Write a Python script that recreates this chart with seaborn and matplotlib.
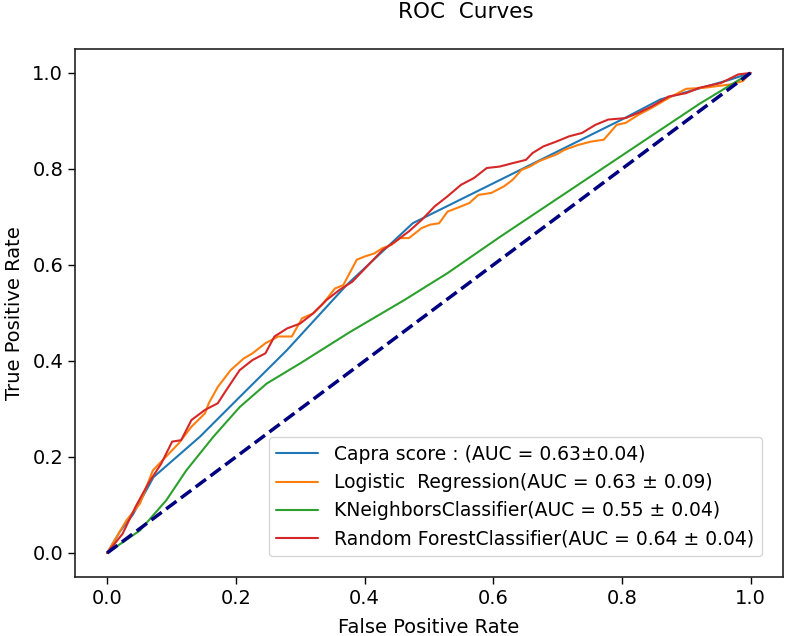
import numpy as np
import pandas as pd
import matplotlib
matplotlib.use("Agg")
import matplotlib.pyplot as plt
import seaborn as sns

# ---- data ----
capra_fpr = [0.0, 0.02, 0.04, 0.072, 0.144, 0.206, 0.279, 0.372, 0.475, 0.63, 0.80, 0.86,
             0.90, 0.968, 1.0]
capra_tpr = [0.0, 0.045, 0.08, 0.158, 0.242, 0.325, 0.422, 0.558, 0.687, 0.79, 0.903, 0.945,
             0.96, 0.986, 1.0]

lr_fpr = [0.0, 0.030, 0.051, 0.071, 0.091, 0.111, 0.131, 0.152, 0.158, 0.172, 0.192, 0.212,
          0.226, 0.246, 0.266, 0.287, 0.303, 0.320, 0.334, 0.354, 0.367, 0.388, 0.401, 0.415,
          0.428, 0.442, 0.455, 0.469, 0.489, 0.502, 0.516, 0.529, 0.550, 0.563, 0.577, 0.597,
          0.617, 0.630, 0.644, 0.657, 0.671, 0.684, 0.698, 0.711, 0.732, 0.752, 0.772, 0.792,
          0.806, 0.826, 0.846, 0.873, 0.900, 0.927, 0.968, 0.988, 1.0]
lr_tpr = [0.0, 0.068, 0.103, 0.172, 0.200, 0.228, 0.263, 0.291, 0.312, 0.346, 0.381, 0.405,
          0.416, 0.437, 0.451, 0.451, 0.489, 0.499, 0.517, 0.551, 0.558, 0.611, 0.618, 0.624,
          0.635, 0.642, 0.656, 0.656, 0.677, 0.684, 0.687, 0.711, 0.722, 0.729, 0.746, 0.750,
          0.764, 0.777, 0.798, 0.805, 0.816, 0.823, 0.830, 0.840, 0.850, 0.857, 0.861, 0.892,
          0.896, 0.913, 0.927, 0.948, 0.967, 0.969, 0.976, 0.983, 1.0]

knn_fpr = [0.0, 0.051, 0.092, 0.123, 0.165, 0.206, 0.248, 0.300, 0.377, 0.462, 0.529, 0.610,
           0.714, 0.818, 0.921, 1.0]
knn_tpr = [0.0, 0.047, 0.110, 0.172, 0.242, 0.304, 0.353, 0.395, 0.460, 0.527, 0.583, 0.658,
           0.751, 0.844, 0.936, 1.0]

rf_fpr = [0.0, 0.024, 0.044, 0.064, 0.084, 0.101, 0.115, 0.131, 0.152, 0.172, 0.185, 0.206,
          0.226, 0.246, 0.260, 0.280, 0.300, 0.320, 0.341, 0.361, 0.381, 0.401, 0.428, 0.448,
          0.469, 0.489, 0.509, 0.529, 0.550, 0.570, 0.590, 0.610, 0.630, 0.651, 0.661, 0.678,
          0.698, 0.718, 0.738, 0.759, 0.779, 0.806, 0.826, 0.846, 0.873, 0.900, 0.920, 0.954,
          0.981, 1.0]
rf_tpr = [0.0, 0.040, 0.096, 0.145, 0.186, 0.232, 0.235, 0.277, 0.298, 0.312, 0.339, 0.381,
          0.402, 0.416, 0.451, 0.468, 0.478, 0.499, 0.527, 0.548, 0.565, 0.593, 0.631, 0.649,
          0.670, 0.694, 0.722, 0.743, 0.767, 0.781, 0.802, 0.805, 0.812, 0.819, 0.833, 0.847,
          0.857, 0.868, 0.875, 0.892, 0.903, 0.906, 0.917, 0.930, 0.951, 0.958, 0.969, 0.979,
          0.997, 1.0]

chance = [0.0, 1.0]

labels = [
    "Capra score : (AUC = 0.63±0.04)",
    "Logistic  Regression(AUC = 0.63 ± 0.09)",
    "KNeighborsClassifier(AUC = 0.55 ± 0.04)",
    "Random ForestClassifier(AUC = 0.64 ± 0.04)",
]
colors = ["#1f77b4", "#ff7f0e", "#2ca02c", "#d62728"]

sns.set_style("ticks")
plt.rcParams["font.family"] = ["DejaVu Sans"]
plt.rcParams["axes.edgecolor"] = "#222222"
plt.rcParams["xtick.color"] = "black"
plt.rcParams["ytick.color"] = "black"
plt.rcParams["text.color"] = "black"
plt.rcParams["axes.labelcolor"] = "black"

fig = plt.figure(figsize=(7.87, 6.36), dpi=100)
ax = fig.add_axes([0.0953, 0.0928, 0.8992, 0.8302])

series = [(capra_fpr, capra_tpr), (lr_fpr, lr_tpr), (knn_fpr, knn_tpr), (rf_fpr, rf_tpr)]
for (fx, ty), lab, col in zip(series, labels, colors):
    df = pd.DataFrame({"fpr": fx, "tpr": ty})
    sns.lineplot(data=df, x="fpr", y="tpr", ax=ax, color=col, lw=1.5,
                 label=lab, sort=False, estimator=None)

sns.lineplot(x=chance, y=chance, ax=ax, color="navy", lw=2.5, linestyle="--",
             sort=False, estimator=None)

ax.set_xlim(-0.05, 1.05)
ax.set_ylim(-0.05, 1.05)
ax.set_xticks([0.0, 0.2, 0.4, 0.6, 0.8, 1.0])
ax.set_yticks([0.0, 0.2, 0.4, 0.6, 0.8, 1.0])
ax.tick_params(labelsize=14, length=5, width=1)
ax.set_xlabel("False Positive Rate", fontsize=14, labelpad=7)
ax.set_ylabel("True Positive Rate", fontsize=14, labelpad=6)
for s in ax.spines.values():
    s.set_linewidth(1.2)

fig.text(466 / 787, 1 - 18.5 / 636, "ROC  Curves", fontsize=15.5,
         ha="center", va="baseline")

ax.legend(loc="lower right", fontsize=13.5, frameon=True, borderaxespad=1.1,
          handlelength=2.2, handletextpad=0.9, labelspacing=0.5, borderpad=0.4)

fig.savefig("out.png", dpi=100)
